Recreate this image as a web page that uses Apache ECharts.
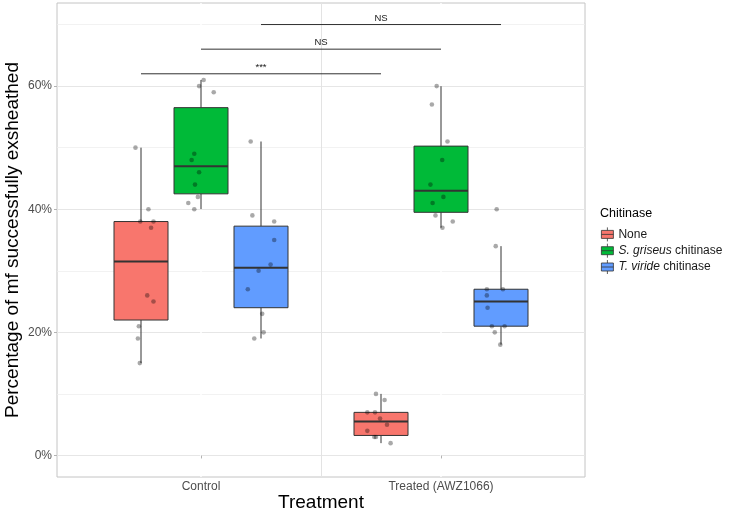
<!DOCTYPE html>
<html><head><meta charset="utf-8">
<script src="https://cdn.jsdelivr.net/npm/echarts@6/dist/echarts.min.js"></script>
<style>html,body{margin:0;padding:0;background:#fff}#c{width:730px;height:512px}</style>
</head><body><div id="c"></div>
<script>
// ---- data ----
const treatments = ['Control', 'Treated (AWZ1066)'];
const chitinases = ['None', 'S. griseus chitinase', 'T. viride chitinase'];
const fills = ['#F8766D', '#00BA38', '#619CFF'];

// percentage exsheathed, one value per replicate
const noneControl    = [50, 40, 38, 38, 37, 26, 25, 21, 19, 15];
const noneTreated    = [10, 9, 7, 7, 6, 5, 4, 3, 3, 2];
const griseusControl = [61, 60, 59, 49, 48, 46, 44, 42, 41, 40];
const griseusTreated = [60, 57, 51, 48, 44, 42, 41, 39, 38, 37];
const virideControl  = [51, 39, 38, 35, 31, 30, 27, 23, 20, 19];
const virideTreated  = [40, 34, 27, 27, 26, 24, 21, 21, 20, 18];

// horizontal jitter of each point (category units)
const noneControlJitter    = [-0.023, 0.031, -0.003, 0.052, 0.042, 0.026, 0.052, -0.009, -0.013, -0.005];
const noneTreatedJitter    = [-0.021, 0.015, -0.057, -0.025, -0.004, 0.025, -0.057, -0.028, -0.021, 0.040];
const griseusControlJitter = [0.011, -0.008, 0.053, -0.028, -0.039, -0.008, -0.025, -0.013, -0.053, -0.028];
const griseusTreatedJitter = [-0.018, -0.038, 0.027, 0.005, -0.044, 0.010, -0.035, -0.023, 0.049, 0.006];
const virideControlJitter  = [-0.043, -0.036, 0.055, 0.055, 0.040, -0.010, -0.055, 0.005, 0.011, -0.028];
const virideTreatedJitter  = [-0.018, -0.022, -0.059, 0.008, -0.059, -0.056, -0.038, 0.015, -0.026, -0.003];

const yTicks = [0, 20, 40, 60];
const yMinorTicks = [10, 30, 50, 70];
const sigLabels = ['***', 'NS', 'NS'];
const sigHeights = [62, 66, 70];

// ---- build ----
const groups = [
  [noneControl, noneTreated],
  [griseusControl, griseusTreated],
  [virideControl, virideTreated]
];
const jitters = [
  [noneControlJitter, noneTreatedJitter],
  [griseusControlJitter, griseusTreatedJitter],
  [virideControlJitter, virideTreatedJitter]
];
const DODGE = 0.25, BOXW = 0.225;
const FONT = 'Liberation Sans, Arial, Helvetica, sans-serif';

function quantile(s, p) {
  const h = (s.length - 1) * p, lo = Math.floor(h);
  const hi = Math.min(lo + 1, s.length - 1);
  return s[lo] + (h - lo) * (s[hi] - s[lo]);
}
function boxStats(vals) {
  const s = vals.slice().sort((a, b) => a - b);
  const q1 = quantile(s, 0.25), med = quantile(s, 0.5), q3 = quantile(s, 0.75);
  const iqr = q3 - q1;
  const lo = Math.min.apply(null, s.filter(v => v >= q1 - 1.5 * iqr));
  const hi = Math.max.apply(null, s.filter(v => v <= q3 + 1.5 * iqr));
  return [lo, q1, med, q3, hi];
}
const offset = s => (s - 1) * DODGE;

function renderBox(params, api) {
  const x = api.value(0);
  const pLo = api.coord([x, api.value(1)]);
  const pQ1 = api.coord([x, api.value(2)]);
  const pMed = api.coord([x, api.value(3)]);
  const pQ3 = api.coord([x, api.value(4)]);
  const pHi = api.coord([x, api.value(5)]);
  const hw = api.size([BOXW, 0])[0] / 2;
  const cx = pMed[0];
  const stroke = '#333333';
  return {
    type: 'group',
    children: [
      { type: 'line', shape: { x1: cx, y1: pHi[1], x2: cx, y2: pQ3[1] }, style: { stroke: stroke, lineWidth: 1 } },
      { type: 'line', shape: { x1: cx, y1: pQ1[1], x2: cx, y2: pLo[1] }, style: { stroke: stroke, lineWidth: 1 } },
      { type: 'rect', shape: { x: cx - hw, y: pQ3[1], width: 2 * hw, height: pQ1[1] - pQ3[1] },
        style: { fill: api.visual('color'), stroke: stroke, lineWidth: 1 } },
      { type: 'line', shape: { x1: cx - hw, y1: pMed[1], x2: cx + hw, y2: pMed[1] }, style: { stroke: stroke, lineWidth: 2 } }
    ]
  };
}

const series = [];
chitinases.forEach((name, s) => {
  series.push({
    name: name,
    type: 'custom',
    z: 2,
    itemStyle: { color: fills[s] },
    encode: { x: 0, y: [1, 2, 3, 4, 5] },
    renderItem: renderBox,
    data: treatments.map((t, ti) => [ti + 1 + offset(s)].concat(boxStats(groups[s][ti])))
  });
});
chitinases.forEach((name, s) => {
  const pts = [];
  treatments.forEach((t, ti) => {
    groups[s][ti].forEach((v, k) => pts.push([ti + 1 + offset(s) + jitters[s][ti][k], v]));
  });
  series.push({
    name: 'points ' + name,
    type: 'scatter',
    z: 4,
    symbolSize: 4.6,
    itemStyle: { color: 'rgba(0,0,0,0.42)' },
    data: pts
  });
});
series.push({
  name: 'significance',
  type: 'custom',
  z: 5,
  encode: { x: [0, 1], y: 2 },
  data: sigHeights.map((h, s) => [1 + offset(s), 2 + offset(s), h]),
  renderItem: function (params, api) {
    const p1 = api.coord([api.value(0), api.value(2)]);
    const p2 = api.coord([api.value(1), api.value(2)]);
    return {
      type: 'group',
      children: [
        { type: 'line', shape: { x1: p1[0], y1: p1[1], x2: p2[0], y2: p2[1] }, style: { stroke: '#1a1a1a', lineWidth: 0.9 } },
        { type: 'text', x: (p1[0] + p2[0]) / 2, y: p1[1] - 1.5,
          style: { text: sigLabels[params.dataIndex], fontSize: 9.5, fill: '#1a1a1a', align: 'center', verticalAlign: 'bottom', fontFamily: FONT } }
      ]
    };
  },
  markLine: {
    silent: true, symbol: 'none', label: { show: false },
    lineStyle: { color: '#e3e3e3', width: 1, type: 'solid' },
    data: [{ xAxis: 1.5 }]
  }
});

const boxIcon = 'path://M6,0V3M0,3H12V11H0ZM0,7H12M6,11V14';

const option = {
  animation: false,
  textStyle: { fontFamily: FONT },
  grid: { left: 57, right: 145, top: 3, bottom: 35, show: true, borderColor: '#c4c4c4', borderWidth: 1,
    backgroundColor: 'transparent', containLabel: false, outerBoundsMode: 'none' },
  title: { text: 'Chitinase', left: 600, top: 207, padding: 0,
    textStyle: { fontSize: 12.5, fontWeight: 'normal', color: '#000', fontFamily: FONT } },
  legend: {
    orient: 'vertical', left: 601, top: 227, padding: 0,
    itemWidth: 12, itemHeight: 14, itemGap: 1.5,
    data: chitinases.map(n => ({ name: n, icon: boxIcon })),
    itemStyle: { borderColor: '#333', borderWidth: 0.8 },
    formatter: function (n) {
      const m = n.match(/^(S\. griseus|T\. viride)( .*)$/);
      return m ? '{i|' + m[1] + '}' + m[2] : n;
    },
    textStyle: { fontSize: 12, color: '#1a1a1a', fontFamily: FONT,
      rich: { i: { fontStyle: 'italic', fontSize: 12, color: '#1a1a1a', fontFamily: FONT } } },
    selectedMode: false
  },
  xAxis: {
    type: 'value', min: 0.4, max: 2.6,
    axisLine: { show: false },
    axisTick: { show: true, customValues: [1, 2], length: 3, lineStyle: { color: '#b3b3b3' } },
    axisLabel: { customValues: [1, 2], formatter: v => treatments[Math.round(v) - 1], color: '#4d4d4d', fontSize: 12, margin: 4 },
    splitLine: { show: true, lineStyle: { color: '#ffffff', width: 1.5 } },
    name: 'Treatment', nameLocation: 'middle', nameGap: 16, nameMoveOverlap: false,
    nameTextStyle: { fontSize: 19, color: '#000', fontFamily: FONT }
  },
  yAxis: [{
    type: 'value', min: -3.5, max: 73.5,
    axisLine: { show: false },
    axisTick: { show: true, customValues: yTicks, length: 3, lineStyle: { color: '#b3b3b3' } },
    axisLabel: { customValues: yTicks, formatter: v => v + '%', color: '#4d4d4d', fontSize: 12, margin: 5 },
    splitLine: { show: true, lineStyle: { color: '#e6e6e6', width: 1 } },
    name: 'Percentage of mf successfully exsheathed', nameLocation: 'middle', nameGap: 35, nameMoveOverlap: false,
    nameTextStyle: { fontSize: 19, color: '#000', fontFamily: FONT }
  }, {
    type: 'value', min: -3.5, max: 73.5, position: 'left',
    axisLine: { show: false }, axisLabel: { show: false },
    axisTick: { show: false, customValues: yMinorTicks },
    splitLine: { show: true, lineStyle: { color: '#efefef', width: 0.8 } }
  }],
  series: series
};
echarts.init(document.getElementById('c'), null, { renderer: 'canvas' }).setOption(option);
</script>
</body></html>
